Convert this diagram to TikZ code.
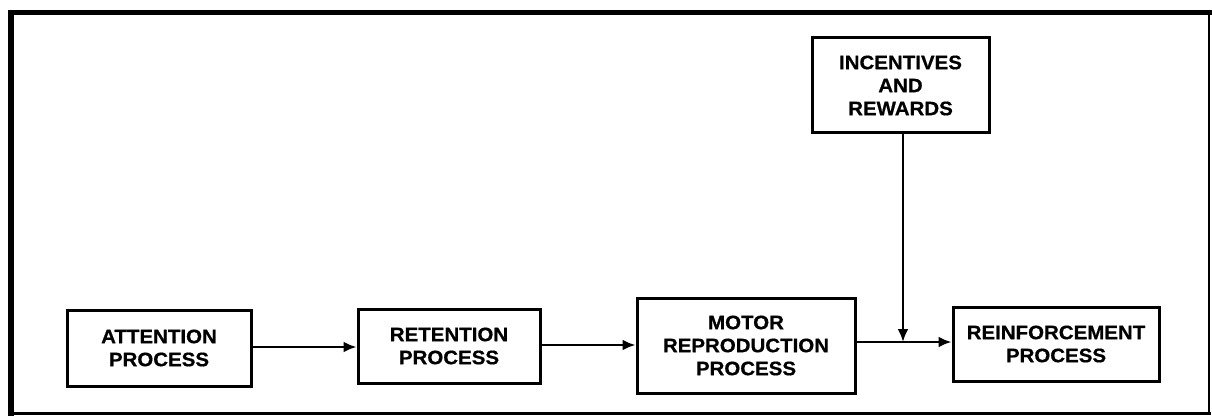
\documentclass[tikz,border=0pt]{standalone}
\usepackage{fontspec}
\setmainfont{Liberation Sans}[FakeStretch=1.05,FakeBold=0.6]
\usetikzlibrary{arrows.meta}
\tikzset{
  procbox/.style={draw, line width=3pt, align=center, inner sep=0pt,
    font=\fontsize{19.5}{23}\selectfont\bfseries},
  flow/.style={line width=2.6pt, -{Latex[length=13pt,width=11pt]}},
  frameline/.style={line cap=rect}
}
\begin{document}
\begin{tikzpicture}[x=1pt,y=-1pt]
\useasboundingbox (0,0) rectangle (1212,417);
% frame
\draw[frameline, line width=5pt] (11,13) -- (1209,13);
\draw[frameline, line width=5.5pt] (11,13) -- (11,413);
\draw[frameline, line width=3pt] (11,413) -- (1209,413);
\draw[frameline, line width=2.5pt] (1209,13) -- (1209,413);
% boxes
\node[procbox, minimum width=184pt, minimum height=76pt] (att) at (159,348) {ATTENTION\\PROCESS};
\node[procbox, minimum width=182pt, minimum height=74pt] (ret) at (449,346) {RETENTION\\PROCESS};
\node[procbox, minimum width=218pt, minimum height=95pt] (mot) at (746,345.5) {MOTOR\\REPRODUCTION\\PROCESS};
\node[procbox, minimum width=206pt, minimum height=74pt] (rei) at (1056,344) {REINFORCEMENT\\PROCESS};
\node[procbox, minimum width=177pt, minimum height=95pt] (inc) at (900.5,85.5) {INCENTIVES\\AND\\REWARDS};
\coordinate (join) at (903,342);
% connectors
\draw[flow] (att.east |- 0,347) -- (ret.west |- 0,347);
\draw[flow] (ret.east |- 0,345) -- (mot.west |- 0,345);
\draw[flow] (mot.east |- join) -- (rei.west |- join);
\draw[flow] (inc.south -| join) -- (join);
\end{tikzpicture}
\end{document}
